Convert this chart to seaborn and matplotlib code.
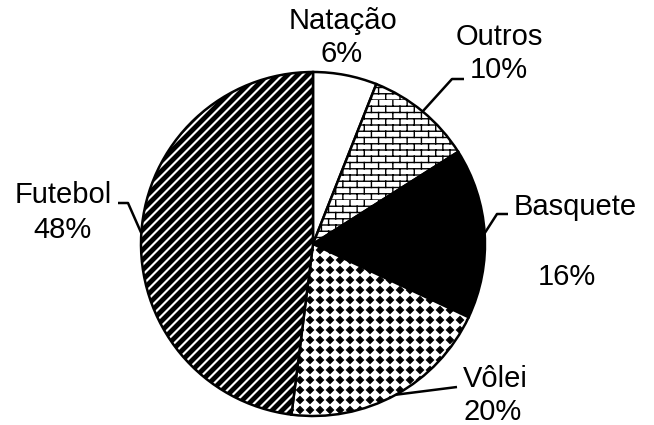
import warnings
import numpy as np
import matplotlib
matplotlib.use("Agg")
import matplotlib.pyplot as plt
import matplotlib.hatch as mhatch
from matplotlib.path import Path
import seaborn as sns

warnings.filterwarnings("ignore")

# dados
esportes = ["Natação", "Outros", "Basquete", "Vôlei", "Futebol"]
percentuais = [6, 10, 16, 20, 48]
rotulos = ["6%", "10%", "16%", "20%", "48%"]


# padrões extras: tijolos ('b'), losangos ('d') e listras grossas ('s')
class BrickHatch(mhatch.HatchPatternBase):
    def __init__(self, hatch, density):
        n = hatch.count("b")
        self.rows = 16 * n
        self.cols = 7 * n
        self.num_vertices = self.rows * (2 + 2 * (self.cols + 1)) if n else 0

    def set_vertices_and_codes(self, vertices, codes):
        h = 1.0 / self.rows
        w = 1.0 / self.cols
        k = 0
        for r in range(self.rows):
            y = r * h
            vertices[k], vertices[k + 1] = (0, y), (1, y)
            codes[k], codes[k + 1] = Path.MOVETO, Path.LINETO
            k += 2
            off = 0 if r % 2 == 0 else w / 2
            for c in range(self.cols + 1):
                x = off + c * w
                vertices[k], vertices[k + 1] = (x, y), (x, y + h)
                codes[k], codes[k + 1] = Path.MOVETO, Path.LINETO
                k += 2


class DiamondHatch(mhatch.HatchPatternBase):
    def __init__(self, hatch, density):
        n = hatch.count("d")
        self.n = 10 * n
        self.num_vertices = (self.n + 1) ** 2 * 5 if n else 0

    def set_vertices_and_codes(self, vertices, codes):
        s = 1.0 / self.n
        a = 0.34 * s
        base = np.array([(a, 0), (0, a), (-a, 0), (0, -a), (a, 0)])
        cc = [Path.MOVETO, Path.LINETO, Path.LINETO, Path.LINETO, Path.CLOSEPOLY]
        k = 0
        for i in range(self.n + 1):
            for j in range(self.n + 1):
                vertices[k:k + 5] = base + (i * s, j * s)
                codes[k:k + 5] = cc
                k += 5


class StripeHatch(mhatch.HatchPatternBase):
    def __init__(self, hatch, density):
        n = hatch.count("s")
        self.n = 10 * n
        self.num_vertices = (2 * self.n + 1) * 5 if n else 0

    def set_vertices_and_codes(self, vertices, codes):
        p = 1.0 / self.n
        t = 0.5 * p
        cc = [Path.MOVETO, Path.LINETO, Path.LINETO, Path.LINETO, Path.CLOSEPOLY]
        k = 0
        for i in range(2 * self.n + 1):
            c = -1 + i * p
            vertices[k:k + 5] = [(c, 0), (c + t, 0), (c + t + 1, 1),
                                 (c + 1, 1), (c, 0)]
            codes[k:k + 5] = cc
            k += 5


mhatch._hatch_types.extend([BrickHatch, DiamondHatch, StripeHatch])

sns.set_theme(style="white")
plt.rcParams["font.family"] = ["Liberation Sans", "DejaVu Sans"]
plt.rcParams["text.color"] = "black"
plt.rcParams["hatch.color"] = "black"
plt.rcParams["hatch.linewidth"] = 1.0

W, H = 654, 425
fig = plt.figure(figsize=(W / 100, H / 100), dpi=100)
R = 172
cx, cy = 313, 244
ax = fig.add_axes([(cx - R) / W, (H - cy - R) / H, 2 * R / W, 2 * R / H])

cores = ["white", "white", "black", "white", "white"]
padroes = [None, "b", None, "d", "s"]

wedges, _ = ax.pie(percentuais, startangle=90, counterclock=False,
                   colors=cores, hatch=padroes, radius=1,
                   wedgeprops=dict(edgecolor="black", linewidth=1.8))
for w in wedges:
    w.set_clip_on(False)
ax.set_xlim(-1, 1)
ax.set_ylim(-1, 1)
ax.axis("off")


def fx(x, y):
    return x / W, 1 - y / H


# posição dos textos (px, linha de base) e cotovelo da linha guia
layout = {
    "Natação": ((343, 29), (342, 62), None),
    "Outros": ((499, 45), (499, 78), [(464, 79), (452, 79)]),
    "Basquete": ((575, 215), (567, 285), [(508, 214), (497, 214)]),
    "Vôlei": ((495, 387), (493, 420), [(457, 387)]),
    "Futebol": ((63, 203), (63, 238), [(118, 203), (128, 203)]),
}

for w, nome, rot in zip(wedges, esportes, rotulos):
    (x1, y1), (x2, y2), guia = layout[nome]
    fig.text(*fx(x1, y1), nome, ha="center", va="baseline", fontsize=21,
             color="black")
    fig.text(*fx(x2, y2), rot, ha="center", va="baseline", fontsize=21,
             color="black")
    if guia:
        ang = np.deg2rad((w.theta1 + w.theta2) / 2)
        xs = [(px - cx) / R for px, py in guia] + [np.cos(ang)]
        ys = [(cy - py) / R for px, py in guia] + [np.sin(ang)]
        ax.plot(xs, ys, color="black", lw=1.8, clip_on=False,
                solid_capstyle="butt")

fig.savefig("out.png", dpi=100)
